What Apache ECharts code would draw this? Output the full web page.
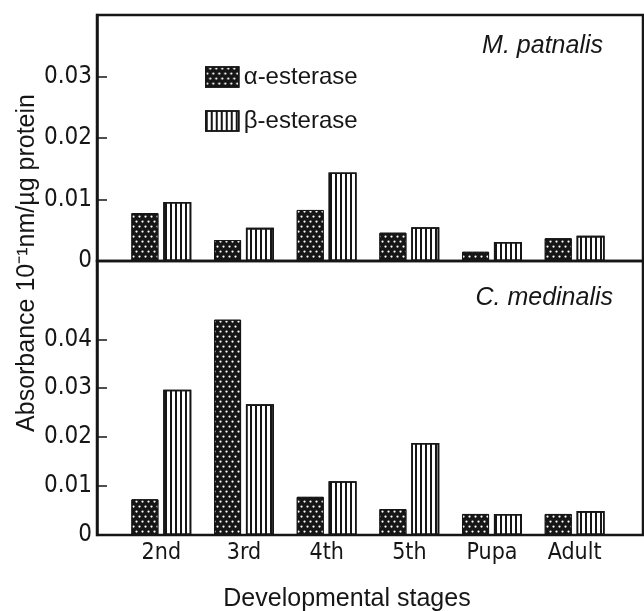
<!DOCTYPE html>
<html>
<head>
<meta charset="utf-8">
<script src="https://cdn.jsdelivr.net/npm/echarts@6/dist/echarts.min.js"></script>
<style>
html,body{margin:0;padding:0;background:#fff;}
#chart{width:644px;height:611px;}
</style>
</head>
<body>
<div id="chart"></div>
<script>
// ---- data ----
var categories = ['2nd', '3rd', '4th', '5th', 'Pupa', 'Adult'];
var seriesNames = ['α-esterase', 'β-esterase'];
var patnalisAlpha = [0.0078, 0.0034, 0.0083, 0.0046, 0.0015, 0.0037];
var patnalisBeta  = [0.0096, 0.0054, 0.0144, 0.0055, 0.0031, 0.0041];
var medinalisAlpha = [0.0073, 0.0440, 0.0078, 0.0053, 0.0043, 0.0043];
var medinalisBeta  = [0.0297, 0.0267, 0.0110, 0.0188, 0.0043, 0.0049];
var topTicks = [0, 0.01, 0.02, 0.03];
var bottomTicks = [0, 0.01, 0.02, 0.03, 0.04];
var panelNames = ['M. patnalis', 'C. medinalis'];
var yTitle = 'Absorbance 10\u207B\u00B9nm/\u00B5g protein';
var xTitle = 'Developmental stages';

var condensed = "'Liberation Sans Narrow','DejaVu Sans Condensed','Roboto Condensed',sans-serif";
var sans = "'Liberation Sans',Arial,sans-serif";
var ink = '#161616';

var alphaStyle = {
  color: ink, borderColor: ink, borderWidth: 1,
  decal: { symbol: 'circle', color: '#ffffff', symbolSize: 0.75,
           dashArrayX: [[3, 3], [0, 3, 3, 0]], dashArrayY: [3, 2], rotation: 0 }
};
var betaStyle = {
  color: '#ffffff', borderColor: ink, borderWidth: 1.6,
  decal: { symbol: 'rect', color: ink, symbolSize: 1,
           dashArrayX: [2, 3], dashArrayY: [20, 0], rotation: 0 }
};

var topY = 15, midY = 261, botY = 535;

var chart = echarts.init(document.getElementById('chart'), null, {renderer: 'canvas'});

function valueAxis(grid, max, ticks, showLabels) {
  return {
    type: 'value', gridIndex: grid, min: 0, max: max,
    splitLine: {show: false},
    axisLine: {show: showLabels, lineStyle: {color: ink, width: 2.5}},
    axisTick: {show: showLabels, inside: true, length: 10, lineStyle: {color: ink, width: 1.5},
               customValues: ticks},
    axisLabel: {show: showLabels, customValues: ticks, color: ink, fontFamily: condensed,
                fontSize: 24, margin: 5,
                formatter: function (v) { return v === 0 ? '0' : v.toFixed(2); }}
  };
}

var option = {
  animation: false,
  backgroundColor: '#ffffff',
  grid: [
    {left: 97, right: 1, top: topY, height: midY - topY, show: true, borderColor: ink, borderWidth: 2.5, backgroundColor: 'transparent'},
    {left: 97, right: 1, top: midY, height: botY - midY, show: true, borderColor: ink, borderWidth: 2.5, backgroundColor: 'transparent'},
    {left: 120, width: 496, top: topY, height: midY - topY},
    {left: 120, width: 496, top: midY, height: botY - midY}
  ],
  xAxis: [
    {type: 'category', gridIndex: 0, data: categories, show: false},
    {type: 'category', gridIndex: 1, data: categories, show: false},
    {type: 'category', gridIndex: 2, data: categories, axisLine: {show: false}, axisTick: {show: false}, axisLabel: {show: false}},
    {type: 'category', gridIndex: 3, data: categories, axisLine: {show: false}, axisTick: {show: false},
     axisLabel: {color: ink, fontFamily: condensed, fontSize: 23, margin: 7}}
  ],
  yAxis: [
    valueAxis(0, 0.04, topTicks, true),
    valueAxis(1, 0.056, bottomTicks, true),
    valueAxis(2, 0.04, topTicks, false),
    valueAxis(3, 0.056, bottomTicks, false)
  ],
  legend: {
    orient: 'vertical', left: 200, top: 60, itemWidth: 33, itemHeight: 20, itemGap: 20,
    icon: 'rect',
    data: seriesNames,
    textStyle: {color: ink, fontFamily: sans, fontSize: 24, padding: [0, 0, 0, 0]},
    itemStyle: {borderWidth: 1.5}
  },
  title: [
    {text: panelNames[0], right: 36, top: 29, textStyle: {fontFamily: sans, fontStyle: 'italic', fontWeight: 'normal', fontSize: 25, color: ink}},
    {text: panelNames[1], right: 26, top: 281, textStyle: {fontFamily: sans, fontStyle: 'italic', fontWeight: 'normal', fontSize: 25, color: ink}}
  ],
  graphic: [
    {type: 'text', x: 27, y: 263, rotation: Math.PI / 2,
     style: {text: yTitle, fill: ink, font: '25px ' + sans, align: 'center', verticalAlign: 'middle'}},
    {type: 'text', x: 347, y: 599,
     style: {text: xTitle, fill: ink, font: '25px ' + sans, align: 'center', verticalAlign: 'middle'}}
  ],
  series: [
    {name: seriesNames[0], type: 'bar', xAxisIndex: 2, yAxisIndex: 2, data: patnalisAlpha, barWidth: 27, barGap: '18%', itemStyle: alphaStyle},
    {name: seriesNames[1], type: 'bar', xAxisIndex: 2, yAxisIndex: 2, data: patnalisBeta, barWidth: 28, barGap: '18%', itemStyle: betaStyle},
    {name: seriesNames[0], type: 'bar', xAxisIndex: 3, yAxisIndex: 3, data: medinalisAlpha, barWidth: 27, barGap: '18%', itemStyle: alphaStyle},
    {name: seriesNames[1], type: 'bar', xAxisIndex: 3, yAxisIndex: 3, data: medinalisBeta, barWidth: 28, barGap: '18%', itemStyle: betaStyle}
  ]
};
chart.setOption(option);
</script>
</body>
</html>
